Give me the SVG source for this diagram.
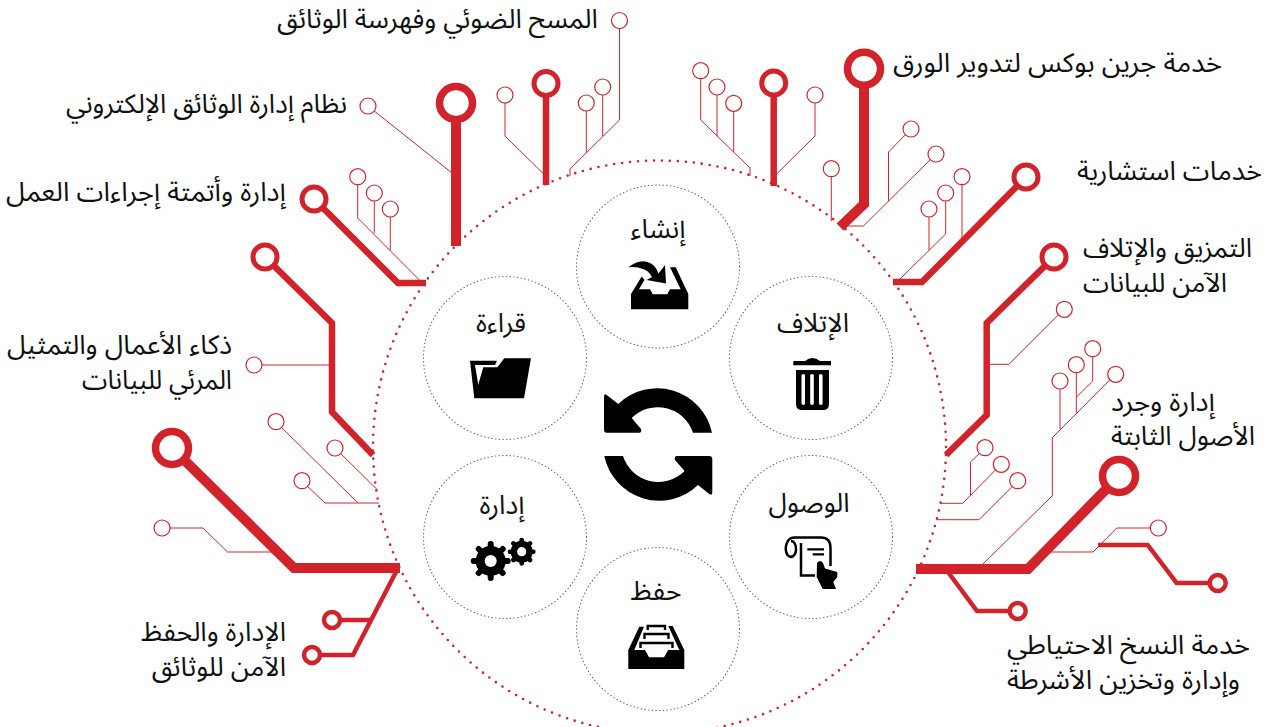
<svg xmlns="http://www.w3.org/2000/svg" width="1281" height="727" viewBox="0 0 1281 727">
<style>
text{font-family:"Noto Sans Arabic","Noto Sans","DejaVu Sans",sans-serif;font-size:26.67px;fill:#111}
.e{text-anchor:end}.s{text-anchor:start}.m{text-anchor:middle}
#connectors path{fill:none;stroke:#d2232a;stroke-linejoin:miter}
.t{stroke-width:1}.n{stroke-width:4.5}.w{stroke-width:6.5}.b{stroke-width:10}
.c1{fill:#fff;stroke:#d2232a;stroke-width:1.2}
.c2{fill:#fff;stroke:#d2232a;stroke-width:4.5}
.c3{fill:#fff;stroke:#d2232a;stroke-width:5}
.c4{fill:#fff;stroke:#d2232a;stroke-width:7.5}
.inner{fill:#fff;stroke:#666;stroke-width:1.1;stroke-linecap:round;stroke-dasharray:0.5 3.2}
.k{fill:#000}
</style>
<circle id="ring" cx="659.5" cy="447" r="286.5" fill="none" stroke="#d2232a" stroke-width="2.6" stroke-linecap="round" stroke-dasharray="0 8"/>
<g id="connectors">
<path class="t" d="M619.5 20V120L570 169V176M602.7 87V136M586.3 103V152"/>
<path class="w" d="M546 83V185"/>
<path class="t" d="M505 95V136L544.6 175"/>
<path class="b" d="M456 103V246"/>
<path class="t" d="M368 106L452 173"/>
<path class="w" d="M314 199L398 283H426"/>
<path class="t" d="M357.7 177V218L420.4 281M374.3 193V233M390.3 209V250"/>
<path class="w" d="M265 257L332 323V412L373 455"/>
<path class="t" d="M254 365H332M276 422L358 503M335 448L377.6 490M302 481L325 503H379"/>
<path class="b" d="M172 448L294 568H400"/>
<path class="t" d="M162 528H203L227.6 552H272"/>
<path class="n" d="M397 570L353 655H312M332 620H371"/>
<path class="t" d="M700.7 71V120L750 168V176M717 87V136M733.7 103V152"/>
<path class="w" d="M773.7 83V186"/>
<path class="t" d="M815 95V136L776.6 174"/>
<path class="b" d="M864 69V204L840 227"/>
<path class="t" d="M831.3 169V221M911 129L888.5 152V201M936 154L863.4 226H847"/>
<path class="w" d="M1026 177L922 282H893"/>
<path class="t" d="M962 177V239M945.7 193V234L900 279M929 209V250"/>
<path class="w" d="M1054 257L986.7 323V415L946 455"/>
<path class="t" d="M1064.3 309L1009 364.3H989M1092.7 349V381L1076.5 397M1076.3 365V413M1060 381V429M1115.7 374L1052.3 437.7V495.7L983 564"/>
<path class="b" d="M1119 476L1028 569H916"/>
<path class="n" d="M948 572L977 611H1018M1098 545H1147.7L1176.7 583H1218"/>
<path class="t" d="M1158.3 528H1116.7L1093 552H1050M985 448L970.5 462V495M1001.3 464L962.7 503.3H940M1017.7 481L979 519.7H936"/>
</g>
<g id="center-icon">
<path class="k" d="M604 397Q604 392 608 396L618.3 404A56 56 0 0 1 712 432.7H693A37 37 0 0 0 631.7 418L641 429Q642 432.7 639 432.7H607Q604 432.7 604 430Z"/>
<path class="k" d="M712.3 492Q712.3 497 708 493L698 485A56 56 0 0 1 604.3 456H623A37 37 0 0 0 684.6 471L675 460Q674 456 677 456H709Q712.3 456 712.3 459Z"/>
</g>
<g id="node-create">
<circle class="inner" cx="658" cy="266.5" r="81.5"/>
<text class="m" x="658" y="238">إنشاء</text>
<path class="k" d="M631 309.3V294L641.7 276.5L644.5 280L639 289.3H650L652.7 294.3H667.3L670 289.3H680.7L670 267.3H675.7L688.3 294V309.3Z"/>
<path class="k" d="M628.3 267.3Q640 258 650 263Q656 266 658.5 273.5L665 265L666 283.5L646.7 280L652 277Q648 270 643 269Q636 266 628.3 267.3Z"/>
</g>
<g id="node-destroy">
<circle class="inner" cx="811" cy="358" r="81.5"/>
<text class="m" x="813" y="332">الإتلاف</text>
<path class="k" d="M793.3 361H805Q812.5 355 820 361H831V365.3H793.3ZM796 370H829V404Q829 410 823 410H802Q796 410 796 404ZM801.5 375V404Q803.2 406 805 404V375Q803.2 373 801.5 375ZM810.2 375V404Q812 406 813.8 404V375Q812 373 810.2 375ZM819 375V404Q820.8 406 822.6 404V375Q820.8 373 819 375Z" fill-rule="evenodd"/>
</g>
<g id="node-read">
<circle class="inner" cx="505" cy="358" r="81.5"/>
<text class="m" x="501" y="332">قراءة</text>
<path class="k" d="M470 360.7H497L495 365H475L479.3 391L474.3 398.3Z"/>
<path class="k" d="M504.3 358.3H531L524 398.3H474.3L483.3 367.3H497.3Z"/>
</g>
<g id="node-manage">
<circle class="inner" cx="505" cy="537" r="81.5"/>
<text class="m" x="502" y="514">إدارة</text>
<g stroke="#000" stroke-linecap="round" stroke-width="6">
<circle cx="490.7" cy="561" r="15" fill="#000" stroke="none"/>
<path d="M490.7 544V578M473.7 561H507.7M478.7 549L502.7 573M478.7 573L502.7 549"/>
<circle cx="521.7" cy="551.7" r="11" fill="#000" stroke="none"/>
<path stroke-width="4.6" d="M521.7 540V563.4M510 551.7H533.4M513.4 543.4L530 560M513.4 560L530 543.4"/>
</g>
<circle cx="490.7" cy="561" r="6" fill="#fff"/>
<circle cx="521.7" cy="551.7" r="4.6" fill="#fff"/>
</g>
<g id="node-access">
<circle class="inner" cx="811" cy="537" r="81.5"/>
<text class="m" x="809" y="512">الوصول</text>
<path fill="none" stroke="#000" stroke-width="2.5" d="M822 537.5H795C786 537 784 549 787.5 555C791 559 796 556 796 549C796 543 793 541 791 541M821 537.5C828 537.5 830.5 542 830.5 548V566M801 543V575.5H815"/>
<path fill="none" stroke="#000" stroke-width="2.2" d="M807.3 549.3H824M812.7 554.3H824"/>
<path class="k" d="M817 563Q820 559 823 563L825 568.5L837.3 572V577L833.3 582L836 589H822.7L816.7 577Z"/>
</g>
<g id="node-store">
<circle class="inner" cx="658" cy="629" r="81.5"/>
<text class="m" x="656" y="600">حفظ</text>
<path class="k" d="M628.3 669V650L639.3 626.7H644L634.3 650H645L649 657.3H664L668.3 650H679.3L668.3 626H672.7L684.3 650V669Z"/>
<path fill="none" stroke="#000" stroke-width="2.4" d="M640.5 648V643H672.5V648M644.5 639V634H668.5V639M647.7 630V626H665V630"/>
</g>
<g id="node-scanning"><circle class="c1" cx="619.5" cy="20.5" r="8"/><circle class="c1" cx="602.7" cy="87" r="8"/><circle class="c1" cx="586.3" cy="103" r="8"/><circle class="c3" cx="546" cy="83.5" r="12"/><circle class="c1" cx="505" cy="95" r="8"/>
<text class="e" x="598" y="28" textLength="321" lengthAdjust="spacingAndGlyphs">المسح الضوئي وفهرسة الوثائق</text></g>
<g id="node-edms"><circle class="c4" cx="456" cy="103" r="16.5"/><circle class="c1" cx="368" cy="106" r="8"/>
<text class="e" x="347" y="113" textLength="281" lengthAdjust="spacingAndGlyphs">نظام إدارة الوثائق الإلكتروني</text></g>
<g id="node-workflow"><circle class="c3" cx="314" cy="199" r="12"/><circle class="c1" cx="357.7" cy="176.7" r="8"/><circle class="c1" cx="374.3" cy="193" r="8"/><circle class="c1" cx="390.3" cy="209" r="8"/>
<text class="e" x="286" y="201" textLength="280" lengthAdjust="spacingAndGlyphs">إدارة وأتمتة إجراءات العمل</text></g>
<g id="node-bi"><circle class="c3" cx="265" cy="257" r="12"/><circle class="c1" cx="254" cy="365" r="8"/><circle class="c1" cx="276" cy="421.7" r="8"/><circle class="c1" cx="335" cy="448" r="8"/><circle class="c1" cx="302" cy="480.7" r="8"/>
<text class="e" x="232" y="354" textLength="225" lengthAdjust="spacingAndGlyphs">ذكاء الأعمال والتمثيل</text><text class="e" x="232" y="389" textLength="150" lengthAdjust="spacingAndGlyphs">المرئي للبيانات</text></g>
<g id="node-records"><circle class="c4" cx="172" cy="448" r="16.5"/><circle class="c1" cx="162" cy="528" r="8"/><circle class="c2" cx="332" cy="620" r="8"/><circle class="c2" cx="312" cy="655" r="8"/>
<text class="e" x="286" y="641">الإدارة والحفظ</text><text class="e" x="286" y="676">الآمن للوثائق</text></g>
<g id="node-greenbox"><circle class="c1" cx="700.7" cy="70.7" r="8"/><circle class="c1" cx="717" cy="87" r="8"/><circle class="c1" cx="733.7" cy="103.3" r="8"/><circle class="c3" cx="773.7" cy="83" r="12"/><circle class="c1" cx="815" cy="95" r="8"/><circle class="c4" cx="864" cy="68.7" r="16.5"/><circle class="c1" cx="831.3" cy="168.7" r="8"/><circle class="c1" cx="911" cy="129" r="8"/><circle class="c1" cx="936" cy="154" r="8"/>
<text class="e" x="1222" y="72" textLength="329" lengthAdjust="spacingAndGlyphs">خدمة جرين بوكس لتدوير الورق</text></g>
<g id="node-consulting"><circle class="c3" cx="1026" cy="177" r="12"/><circle class="c1" cx="962" cy="176.7" r="8"/><circle class="c1" cx="945.7" cy="193" r="8"/><circle class="c1" cx="929" cy="209" r="8"/>
<text class="e" x="1262" y="180" textLength="185" lengthAdjust="spacingAndGlyphs">خدمات استشارية</text></g>
<g id="node-shredding"><circle class="c3" cx="1054" cy="257" r="12"/><circle class="c1" cx="1064.3" cy="309.3" r="8"/>
<text class="e" x="1252" y="257" textLength="169" lengthAdjust="spacingAndGlyphs">التمزيق والإتلاف</text><text class="e" x="1227" y="292" textLength="144" lengthAdjust="spacingAndGlyphs">الآمن للبيانات</text></g>
<g id="node-assets"><circle class="c1" cx="1092.7" cy="348.7" r="8"/><circle class="c1" cx="1076.3" cy="364.7" r="8"/><circle class="c1" cx="1060" cy="381" r="8"/><circle class="c1" cx="1115.7" cy="374.3" r="8"/><circle class="c1" cx="985" cy="447.7" r="8"/><circle class="c1" cx="1001.3" cy="464.3" r="8"/><circle class="c1" cx="1017.7" cy="480.7" r="8"/>
<text class="e" x="1215" y="411" textLength="104" lengthAdjust="spacingAndGlyphs">إدارة وجرد</text><text class="e" x="1255" y="445" textLength="144" lengthAdjust="spacingAndGlyphs">الأصول الثابتة</text></g>
<g id="node-backup"><circle class="c4" cx="1119" cy="476" r="16.5"/><circle class="c2" cx="1017.7" cy="611" r="8"/><circle class="c1" cx="1158.3" cy="528" r="8"/><circle class="c2" cx="1217.7" cy="583" r="8"/>
<text class="e" x="1250" y="654" textLength="243" lengthAdjust="spacingAndGlyphs">خدمة النسخ الاحتياطي</text><text class="e" x="1240" y="689" textLength="233" lengthAdjust="spacingAndGlyphs">وإدارة وتخزين الأشرطة</text></g>
</svg>
